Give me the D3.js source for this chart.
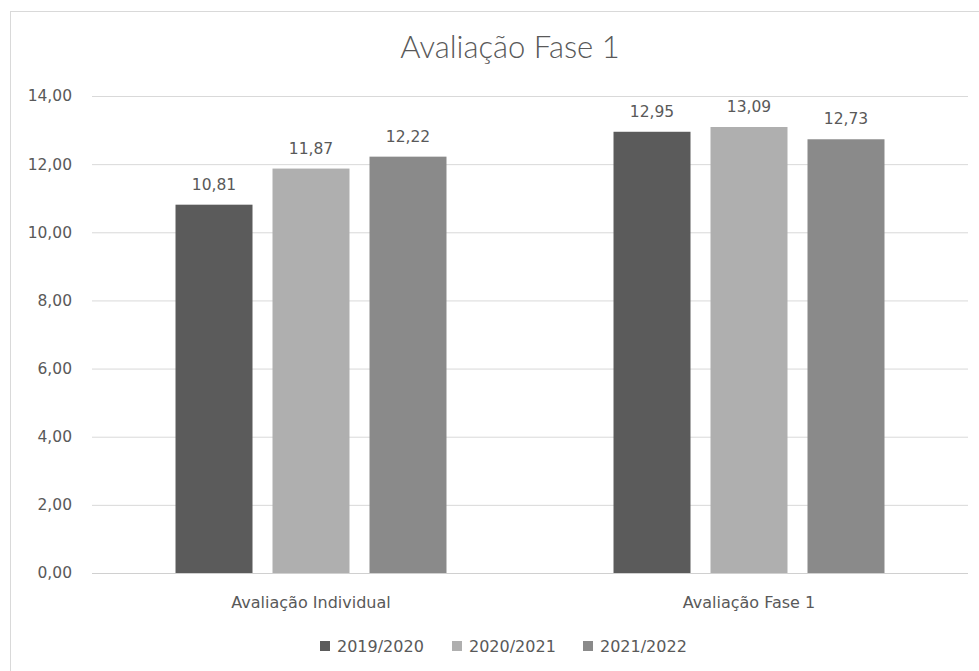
<!DOCTYPE html>
<html>
<head>
<meta charset="utf-8">
<script src="https://cdn.jsdelivr.net/npm/d3@7"></script>
<style>
  html, body { margin: 0; padding: 0; background: #fff; }
  svg { display: block; }
  text { font-family: "DejaVu Sans", sans-serif; fill: #595959; }
</style>
</head>
<body>
<svg id="chart" width="979" height="671"></svg>
<script>
// Chart data
const categories = ["Avaliação Individual", "Avaliação Fase 1"];
const seriesNames = ["2019/2020", "2020/2021", "2021/2022"];
const values2019 = [10.81, 12.95];
const values2020 = [11.87, 13.09];
const values2021 = [12.22, 12.73];
const yTicks = [0, 2, 4, 6, 8, 10, 12, 14];
const title = "Avaliação Fase 1";

const seriesValues = [values2019, values2020, values2021];
const colors = ["#5b5b5b", "#afafaf", "#8a8a8a"];

const svg = d3.select("#chart");
const plot = { left: 92, right: 968, top: 96, bottom: 573 };

const fmt = v => v.toFixed(2).replace(".", ",");

// Outer chart frame
svg.append("rect")
  .attr("x", 10.5).attr("y", 11.5)
  .attr("width", 1000).attr("height", 700)
  .attr("fill", "#fff").attr("stroke", "#d9d9d9");

// Title
svg.append("text")
  .attr("x", 510).attr("y", 58)
  .attr("text-anchor", "middle")
  .style("font-family", "Lato, 'Open Sans', sans-serif")
  .style("font-weight", 300)
  .style("font-size", "31px")
  .text(title);

const y = d3.scaleLinear().domain([0, 14]).range([plot.bottom, plot.top]);
const x0 = d3.scaleBand().domain(categories).range([plot.left, plot.right]);
const x1 = d3.scaleBand().domain(seriesNames).range([0, x0.bandwidth()])
  .paddingInner(20 / 97).paddingOuter(0.861);

// Gridlines and y labels
const yAxis = d3.axisLeft(y).tickValues(yTicks).tickFormat(fmt)
  .tickSize(-(plot.right - plot.left)).tickPadding(20);
const gy = svg.append("g").attr("transform", `translate(${plot.left},0)`).call(yAxis);
gy.select(".domain").remove();
gy.selectAll(".tick line").attr("stroke", "#d9d9d9");
gy.selectAll(".tick text")
  .style("font-size", "15.5px").style("fill", "#595959")
  .style("font-family", "'DejaVu Sans', sans-serif");

// Bars
const groups = svg.append("g").selectAll("g")
  .data(categories).join("g")
  .attr("transform", d => `translate(${x0(d)},0)`);

groups.selectAll("rect")
  .data((c, ci) => seriesNames.map((s, si) => ({ s, si, v: seriesValues[si][ci] })))
  .join("rect")
  .attr("x", d => x1(d.s))
  .attr("y", d => y(d.v))
  .attr("width", x1.bandwidth())
  .attr("height", d => y(0) - y(d.v))
  .attr("fill", d => colors[d.si]);

// Value labels
groups.selectAll("text.val")
  .data((c, ci) => seriesNames.map((s, si) => ({ s, si, v: seriesValues[si][ci] })))
  .join("text")
  .attr("class", "val")
  .attr("x", d => x1(d.s) + x1.bandwidth() / 2)
  .attr("y", d => y(d.v) - 15)
  .attr("text-anchor", "middle")
  .style("font-size", "15.5px")
  .text(d => fmt(d.v));

// Baseline
svg.append("line")
  .attr("x1", plot.left).attr("x2", plot.right)
  .attr("y1", y(0) + 0.5).attr("y2", y(0) + 0.5)
  .attr("stroke", "#d0d0d0");

// Category labels
const xAxis = d3.axisBottom(x0).tickSize(0).tickPadding(24);
const gx = svg.append("g").attr("transform", `translate(0,${plot.bottom})`).call(xAxis);
gx.select(".domain").remove();
gx.selectAll(".tick text")
  .style("font-size", "16px").style("fill", "#595959")
  .style("font-family", "'DejaVu Sans', sans-serif");

// Legend
const legendX = [320, 452, 583];
const legend = svg.append("g").selectAll("g")
  .data(seriesNames).join("g")
  .attr("transform", (d, i) => `translate(${legendX[i]},641)`);
legend.append("rect").attr("width", 10).attr("height", 10)
  .attr("fill", (d, i) => colors[i]);
legend.append("text").attr("x", 17).attr("y", 11)
  .style("font-size", "16px").text(d => d);
</script>
</body>
</html>
